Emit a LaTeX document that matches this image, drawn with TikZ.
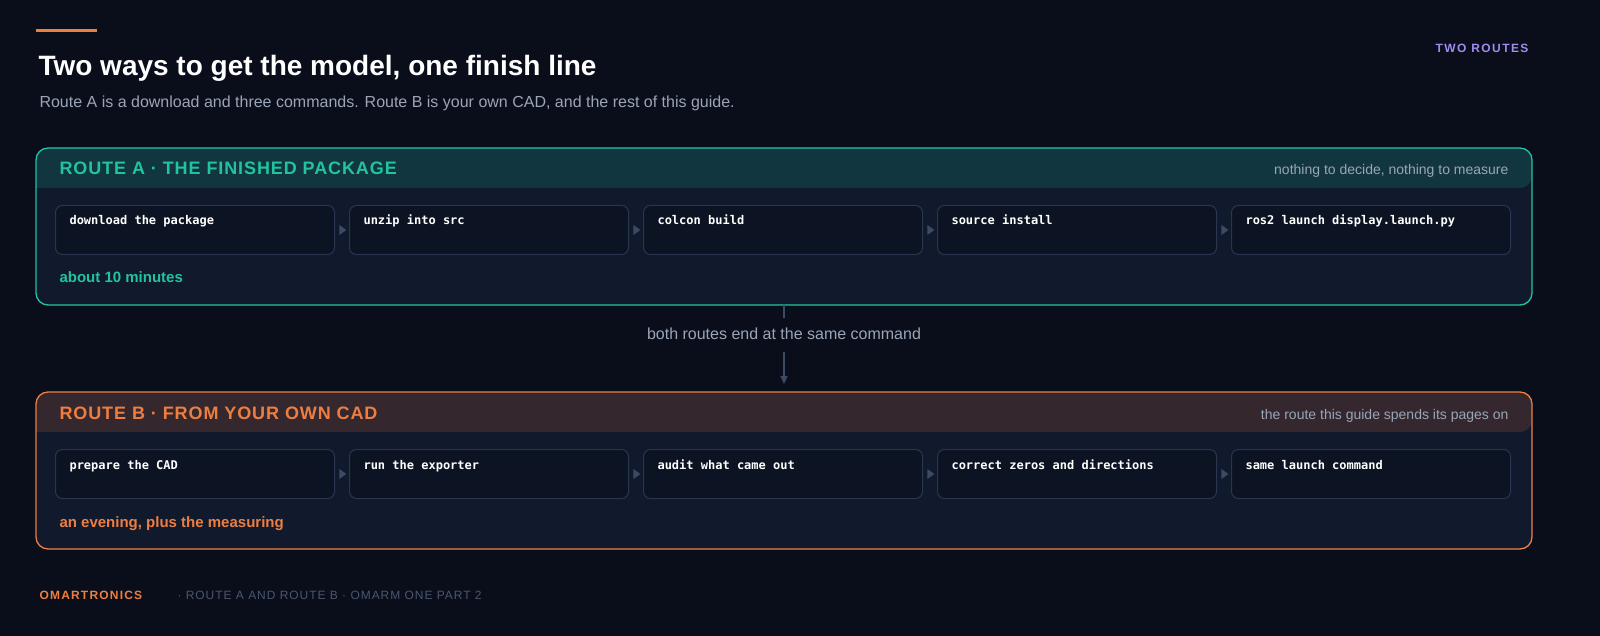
\documentclass[tikz,border=0pt]{standalone}
\usepackage{fontspec}
\setmainfont{Liberation Sans}
\setmonofont{DejaVu Sans Mono}
\usetikzlibrary{shapes.geometric,arrows.meta}
\definecolor{bg}{HTML}{0A0E1A}
\definecolor{panel}{HTML}{111A2C}
\definecolor{teal}{HTML}{22C3A0}
\definecolor{tealhd}{HTML}{12363F}
\definecolor{orng}{HTML}{EE7E40}
\definecolor{orhd}{HTML}{35272E}
\definecolor{stepf}{HTML}{0C1322}
\definecolor{stepb}{HTML}{2A3550}
\definecolor{muted}{HTML}{9AA5B8}
\definecolor{dim}{HTML}{4A5670}
\definecolor{purp}{HTML}{9F8CF0}
\definecolor{tri}{HTML}{3C4A66}
\begin{document}
\begin{tikzpicture}[x=1pt,y=-1pt,
  stepbox/.style={draw=stepb,fill=stepf,rounded corners=7,line width=1,minimum width=279,minimum height=49,anchor=north west,inner sep=0},
  steptxt/.style={anchor=base west,text=white,font=\ttfamily\bfseries\fontsize{12}{14}\selectfont},
  trimark/.style={isosceles triangle,fill=tri,inner sep=0,minimum width=8,minimum height=7,isosceles triangle apex angle=70},
  box/.style={rounded corners=12,line width=1.3,minimum width=1496,minimum height=157,anchor=north west,inner sep=0},
  hdr/.style={anchor=base west,font=\bfseries\fontsize{18}{20}\selectfont\addfontfeatures{LetterSpace=5}},
  hdrr/.style={anchor=base east,text=muted,font=\fontsize{14}{16}\selectfont},
  foot/.style={anchor=base west,font=\bfseries\fontsize{15}{18}\selectfont}]
\fill[bg] (0,0) rectangle (1600,636);
\useasboundingbox (0,0) rectangle (1600,636);
\draw[orng,line width=3] (36,31) -- (97,31);
\node[anchor=base west,text=white,font=\bfseries\fontsize{28}{32}\selectfont] (title) at (35,76) {Two ways to get the model, one finish line};
\node[anchor=base west,text=muted,font=\fontsize{16}{18}\selectfont] (sub) at (36,108) {Route A is a download and three commands. Route B is your own CAD, and the rest of this guide.};
\node[anchor=base east,text=purp,font=\bfseries\fontsize{12}{14}\selectfont\addfontfeatures{LetterSpace=12}] (tag) at (1532,53) {TWO ROUTES};
% Route A
\node[box,fill=panel] (A) at (36,148) {};
\fill[tealhd,rounded corners=12] (36,188) -- (36,148) -- (1532,148) -- (1532,188) [sharp corners] -- cycle;
\draw[teal,rounded corners=12,line width=1.3] (36,148) rectangle (1532,305);
\node[hdr,text=teal] (Ah) at (56,175) {ROUTE A · THE FINISHED PACKAGE};
\node[hdrr] (Ahr) at (1512,175) {nothing to decide, nothing to measure};
\foreach \i/\x/\t in {1/55/download the package,2/349/unzip into src/,3/643/colcon build,4/937/source install/setup.bash,5/1231/ros2 launch display.launch.py}{
  \node[stepbox] (a\i) at (\x,205) {};
  \node[steptxt] at (\x+11,225) {\t};
}
\foreach \i/\j in {1/2,2/3,3/4,4/5}{ \path (a\i.east) -- (a\j.west) node[midway,trimark] {}; }
\node[foot,text=teal] (Af) at (56,283) {about 10 minutes};
% Route B
\node[box,fill=panel] (B) at (36,392) {};
\fill[orhd,rounded corners=12] (36,432) -- (36,392) -- (1532,392) -- (1532,432) [sharp corners] -- cycle;
\draw[orng,rounded corners=12,line width=1.3] (36,392) rectangle (1532,549);
\node[hdr,text=orng] (Bh) at (56,419) {ROUTE B · FROM YOUR OWN CAD};
\node[hdrr] (Bhr) at (1512,419) {the route this guide spends its pages on};
\foreach \i/\x/\t in {1/55/prepare the CAD,2/349/run the exporter,3/643/audit what came out,4/937/correct zeros and directions,5/1231/same launch command}{
  \node[stepbox] (b\i) at (\x,449) {};
  \node[steptxt] at (\x+11,469) {\t};
}
\foreach \i/\j in {1/2,2/3,3/4,4/5}{ \path (b\i.east) -- (b\j.west) node[midway,trimark] {}; }
\node[foot,text=orng] (Bf) at (56,527) {an evening, plus the measuring};
% connector
\node[text=muted,font=\fontsize{16}{18}\selectfont,inner sep=0] (lab) at (784,334) {both routes end at the same command};
\draw[tri,line width=1.2] (784,305) -- (784,318);
\draw[tri,line width=1.2,-{Triangle[length=8,width=7]}] (784,352) -- (784,384);
% footer
\node[anchor=base west,text=orng,font=\bfseries\fontsize{12}{14}\selectfont\addfontfeatures{LetterSpace=10}] (f1) at (36,599) {OMARTRONICS};
\node[anchor=base west,text=dim,font=\fontsize{12}{14}\selectfont\addfontfeatures{LetterSpace=8}] (f2) at (174,599) {· ROUTE A AND ROUTE B · OMARM ONE PART 2};
\end{tikzpicture}
\end{document}
